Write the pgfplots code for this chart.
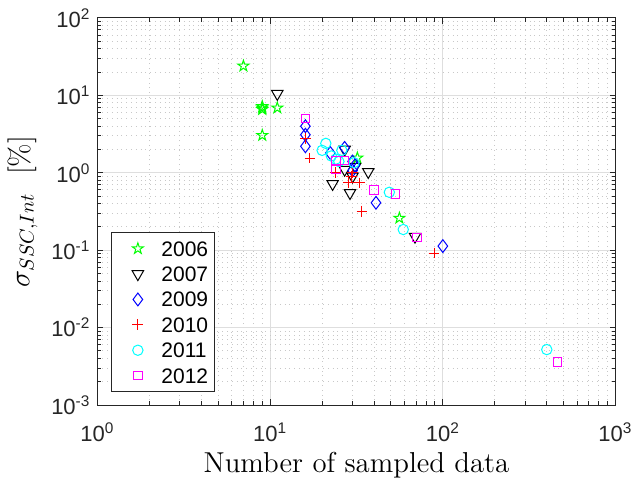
\documentclass[border=0pt]{standalone}
\usepackage{fontspec}
\usepackage{pgfplots}
\pgfplotsset{compat=1.18}
\usetikzlibrary{plotmarks}
\newfontfamily\arial{Liberation Sans}
\definecolor{axgray}{RGB}{38,38,38}
\definecolor{majgrid}{RGB}{222,222,222}
\definecolor{mingrid}{RGB}{200,200,200}
\definecolor{mgreen}{RGB}{0,255,0}
\definecolor{mcyan}{RGB}{0,255,255}
\definecolor{mmag}{RGB}{255,0,255}

\pgfdeclareplotmark{pentagram}{%
  \pgfpathmoveto{\pgfpointpolar{90}{\pgfplotmarksize}}%
  \pgfpathlineto{\pgfpointpolar{126}{0.382\pgfplotmarksize}}%
  \pgfpathlineto{\pgfpointpolar{162}{\pgfplotmarksize}}%
  \pgfpathlineto{\pgfpointpolar{198}{0.382\pgfplotmarksize}}%
  \pgfpathlineto{\pgfpointpolar{234}{\pgfplotmarksize}}%
  \pgfpathlineto{\pgfpointpolar{270}{0.382\pgfplotmarksize}}%
  \pgfpathlineto{\pgfpointpolar{306}{\pgfplotmarksize}}%
  \pgfpathlineto{\pgfpointpolar{342}{0.382\pgfplotmarksize}}%
  \pgfpathlineto{\pgfpointpolar{18}{\pgfplotmarksize}}%
  \pgfpathlineto{\pgfpointpolar{54}{0.382\pgfplotmarksize}}%
  \pgfpathclose\pgfusepathqstroke}

\pgfplotstableread{
x y
7 24
9 7.2
9 6.9
9 6.6
11 6.9
9 3.05
32 1.56
56 0.26
}\tabA
\pgfplotstableread{
x y
11 10.5
23 0.72
29 0.55
37 1.03
27 2.0
27 1.1
30 0.9
31 1.2
69 0.15
}\tabB
\pgfplotstableread{
x y
16 4.0
16 3.1
16 2.2
22.3 1.8
27 2.1
31 1.25
30 1.07
30 1.4
41 0.41
100 0.113
}\tabC
\pgfplotstableread{
x y
16 2.8
17 1.55
24 1.0
28.3 0.75
29.6 0.9
30 1.0
33 0.74
34 0.32
89 0.092
}\tabD
\pgfplotstableread{
x y
21 2.4
20 1.95
22.6 1.65
24 1.5
26 1.95
30.6 1.35
25 1.4
49 0.56
59 0.185
400 0.0052
}\tabE
\pgfplotstableread{
x y
16 5.0
24 1.44
27 1.44
24 1.1
40 0.6
53 0.53
71 0.145
460 0.0036
}\tabF

\begin{document}
\begin{tikzpicture}
\begin{axis}[
  scale only axis, width=259pt, height=193.5pt,
  xmode=log, ymode=log, xmin=1, xmax=1000, ymin=1e-3, ymax=100,
  xtick={1,10,100,1000},
  xticklabels={10\textsuperscript{0},10\textsuperscript{1},10\textsuperscript{2},10\textsuperscript{3}},
  ytick={0.001,0.01,0.1,1,10,100},
  yticklabels={10\textsuperscript{-3},10\textsuperscript{-2},10\textsuperscript{-1},10\textsuperscript{0},10\textsuperscript{1},10\textsuperscript{2}},
  ticklabel style={font=\fontsize{11}{13}\arial, text=axgray},
  xticklabel style={anchor=base, yshift=-18.3pt},
  grid=both,
  major grid style={majgrid, line width=0.5pt},
  minor grid style={mingrid, dotted, line width=0.5pt},
  axis line style={axgray, line width=0.5pt},
  tick style={axgray, line width=0.5pt},
  tick align=inside, major tick length=3pt, minor tick length=1.8pt,
  xlabel={\Large Number of sampled data},
  xlabel style={at={(axis description cs:0.5,0)}, anchor=base, yshift=-33.5pt},
  ylabel={\Large $\sigma_{SSC,Int}$\ \ [\%]},
  legend cell align=left,
  legend style={at={(0.026,0.034)}, anchor=south west, font=\fontsize{10.5}{12}\arial,
    draw=axgray, line width=0.5pt, inner xsep=1pt, inner ysep=1.5pt,
    nodes={text height=7.5pt, text depth=0pt, inner ysep=2.6pt},
    row sep=0pt},
  legend image code/.code={%
    \path[draw=none,fill=none] (0pt,-2pt) rectangle (22pt,2pt);
    \draw[mark repeat=2,mark phase=2] plot coordinates {(0pt,0pt)(12.2pt,0pt)(22pt,0pt)};},
  every axis plot/.append style={only marks, line width=0.5pt},
]
\addplot[mgreen, mark=pentagram, mark size=2.9pt] table {\tabA};
\addlegendentry{2006}
\addplot[black, mark=triangle, mark size=3.3pt, mark options={rotate=180}] table {\tabB};
\addlegendentry{2007}
\addplot[blue, mark=diamond, mark size=3.2pt] table {\tabC};
\addlegendentry{2009}
\addplot[red, mark=+, mark size=2.7pt] table {\tabD};
\addlegendentry{2010}
\addplot[mcyan, mark=o, mark size=2.6pt] table {\tabE};
\addlegendentry{2011}
\addplot[mmag, mark=square, mark size=2.1pt] table {\tabF};
\addlegendentry{2012}
\end{axis}
\pgfresetboundingbox
\path (current axis.south west) ++(-48.75pt,-36pt) rectangle ++(316pt,238.5pt);
\end{tikzpicture}
\end{document}
